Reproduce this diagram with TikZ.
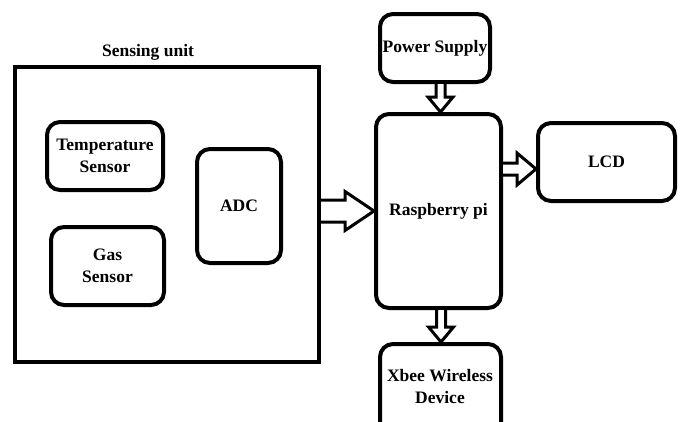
\documentclass[tikz,border=0pt]{standalone}
\usepackage{fontspec}
\setmainfont{Liberation Serif}
\usetikzlibrary{calc}
\tikzset{
  blk/.style={draw, line width=4pt, rounded corners=13pt, align=center, inner sep=0pt,
    font=\fontsize{17.5}{22}\selectfont\bfseries},
  outer/.style={draw, line width=4pt, inner sep=0pt},
  lbl/.style={font=\fontsize{17.5}{22}\selectfont\bfseries, inner sep=0pt},
  barrow/.style={draw, line width=3pt, fill=white, line join=miter}
}
\newcommand\vertblockarrow[2]{%
  \draw[barrow] let \p1=(#1), \p2=(#2) in
    (\x1-4.5pt,\y1) -- (\x1-4.5pt,\y2+15pt) -- (\x1-12.5pt,\y2+15pt) -- (\x1,\y2)
    -- (\x1+12.5pt,\y2+15pt) -- (\x1+4.5pt,\y2+15pt) -- (\x1+4.5pt,\y1);}
\begin{document}
\begin{tikzpicture}[x=1pt,y=-1pt]
\useasboundingbox (0,0) rectangle (680,421);
\clip (0,0) rectangle (680,421);
\fill[white] (0,0) rectangle (680,421);
% sensing unit
\node[outer, minimum width=304pt, minimum height=295pt] (su) at (167,214.5) {};
\node[lbl] (sulbl) at (148,52) {Sensing unit};
\node[blk, minimum width=116pt, minimum height=68pt] (temp) at (105,156) {Temperature\\ Sensor};
\node[blk, minimum width=113pt, minimum height=78pt] (gas) at (107.5,266) {Gas\\Sensor};
\node[blk, minimum width=84pt, minimum height=114pt] (adc) at (239,206) {ADC};
% right side
\node[blk, minimum width=125pt, minimum height=194pt] (rpi) at (438.5,211) {Raspberry pi};
\node[blk, minimum width=110pt, minimum height=68pt] (ps) at (435,48) {Power Supply};
\node[blk, minimum width=137pt, minimum height=78pt] (lcd) at (606.5,162) {LCD};
\node[blk, minimum width=121pt, minimum height=100pt, text depth=0pt] (xbee) at (440.5,394) {};
\node[lbl, align=center] (xbeetxt) at (440,387) {Xbee Wireless\\Device};
% arrows
\draw[barrow]
  ($(su.east |- rpi.west)+(0,-11)$) -- ($(rpi.west)+(-29,-11)$) -- ($(rpi.west)+(-29,-19.5)$)
  -- (rpi.west) -- ($(rpi.west)+(-29,19.5)$) -- ($(rpi.west)+(-29,11)$)
  -- ($(su.east |- rpi.west)+(0,11)$);
\draw[barrow]
  ($(rpi.east |- lcd.west)+(0,1)$) -- ($(lcd.west)+(-19,1)$) -- ($(lcd.west)+(-19,-9)$)
  -- ($(lcd.west)+(0,7)$) -- ($(lcd.west)+(-19,23)$) -- ($(lcd.west)+(-19,13)$)
  -- ($(rpi.east |- lcd.west)+(0,13)$);
\vertblockarrow{$(ps.south -| rpi.north)+(2,0)$}{rpi.north}
\vertblockarrow{$(rpi.south)+(2.5,0)$}{xbee.north}
\end{tikzpicture}
\end{document}
